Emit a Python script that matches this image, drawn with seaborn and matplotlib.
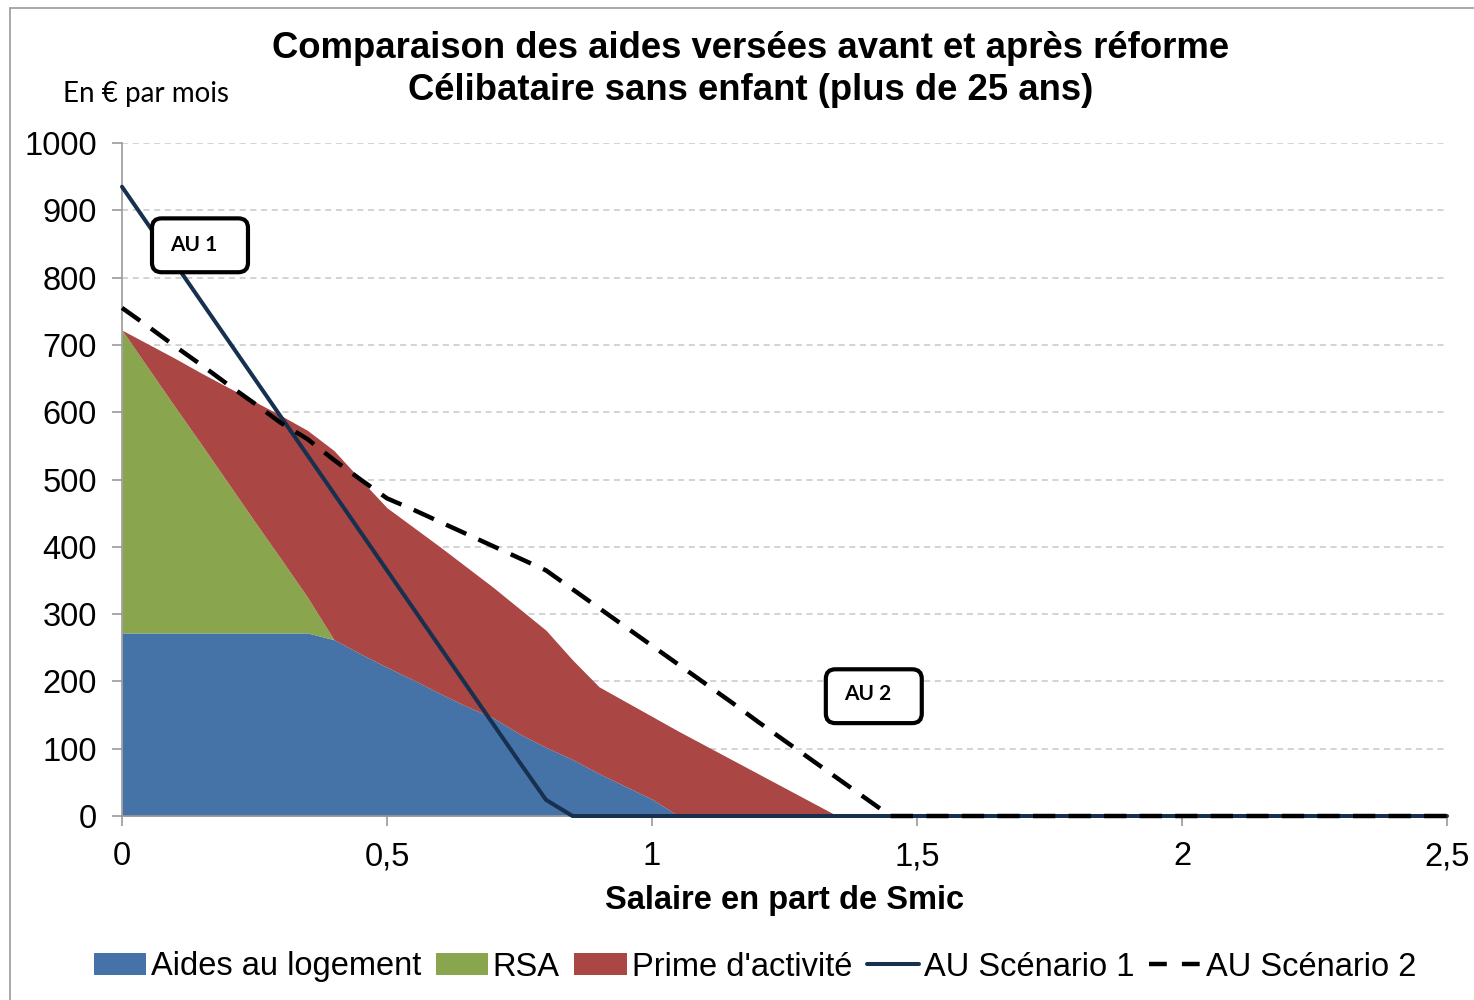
import numpy as np
import pandas as pd
import matplotlib
matplotlib.use("Agg")
import matplotlib.pyplot as plt
import seaborn as sns
from matplotlib.patches import Patch, FancyBboxPatch
from matplotlib.lines import Line2D

# ---------------- data ----------------
salaire = [0.00, 0.05, 0.10, 0.15, 0.20, 0.25, 0.30, 0.35, 0.40, 0.45,
           0.50, 0.55, 0.60, 0.65, 0.70, 0.75, 0.80, 0.85, 0.90, 0.95,
           1.00, 1.05, 1.10, 1.15, 1.20, 1.25, 1.30, 1.35, 1.40, 1.45,
           1.50, 2.50]
aides_logement = [272, 272, 272, 272, 272, 272, 272, 272, 262, 241,
                  221, 202, 182, 163, 146, 122, 102, 84, 63, 44,
                  25, 0, 0, 0, 0, 0, 0, 0, 0, 0,
                  0, 0]
rsa = [450, 393, 336, 280, 223, 166, 110, 53, 0, 0,
       0, 0, 0, 0, 0, 0, 0, 0, 0, 0,
       0, 0, 0, 0, 0, 0, 0, 0, 0, 0,
       0, 0]
prime_activite = [0, 36, 72, 106, 142, 178, 213, 248, 281, 259,
                  237, 227, 218, 207, 194, 186, 174, 148, 129, 126,
                  123, 126, 105, 84, 63, 42, 21, 0, 0, 0,
                  0, 0]
au_scenario1 = [935, 878, 821, 764, 707, 650, 593, 536, 479, 422,
                365, 308, 251, 194, 137, 80, 24, 0, 0, 0,
                0, 0, 0, 0, 0, 0, 0, 0, 0, 0,
                0, 0]
au_scenario2 = [755, 727, 698, 670, 641, 613, 584, 560, 529, 500,
                472, 455, 437, 419, 401, 383, 365, 337, 309, 281,
                253, 225, 197, 169, 140, 112, 84, 56, 28, 0,
                0, 0]

series_labels = ["Aides au logement", "RSA", "Prime d'activité",
                 "AU Scénario 1", "AU Scénario 2"]
x_ticks = [0, 0.5, 1, 1.5, 2, 2.5]
x_ticklabels = ["0", "0,5", "1", "1,5", "2", "2,5"]
y_ticks = [0, 100, 200, 300, 400, 500, 600, 700, 800, 900, 1000]

title1 = "Comparaison des aides versées avant et après réforme"
title2 = "Célibataire sans enfant (plus de 25 ans)"
unit_label = "En € par mois"
x_label = "Salaire en part de Smic"

# ---------------- style ----------------
sns.set_theme(style="white")
plt.rcParams['font.family'] = ['Liberation Sans', 'DejaVu Sans']
plt.rcParams['text.color'] = 'black'
plt.rcParams['axes.labelcolor'] = 'black'
plt.rcParams['xtick.color'] = 'black'
plt.rcParams['ytick.color'] = 'black'

c_blue = "#4572A7"
c_green = "#89A54E"
c_red = "#AA4643"
c_navy = "#17304F"
c_dash = "#000000"

fig = plt.figure(figsize=(14.74, 10.0), dpi=100)
ax = fig.add_axes([122/1474, 1-816/1000, (1447-122)/1474, (816-143)/1000])

ax.stackplot(salaire, aides_logement, rsa, prime_activite,
             colors=[c_blue, c_green, c_red], linewidth=0, zorder=2)

df = pd.DataFrame({"x": salaire, "au1": au_scenario1, "au2": au_scenario2})
sns.lineplot(data=df, x="x", y="au1", ax=ax, color=c_navy, linewidth=2.9,
             zorder=4, clip_on=False, legend=False)
sns.lineplot(data=df, x="x", y="au2", ax=ax, color=c_dash, linewidth=3.2,
             linestyle=(0, (5, 3)), zorder=5, clip_on=False, legend=False)

ax.set_xlim(0, 2.5)
ax.set_ylim(0, 1000)
ax.set_xticks(x_ticks)
ax.set_xticklabels(x_ticklabels)
ax.set_yticks(y_ticks)
ax.tick_params(axis='both', labelsize=23.5, labelcolor="#000000", length=7,
               width=1.2, direction='out', pad=11, color="#999999")
ax.tick_params(axis='y', left=True)
ax.tick_params(axis='x', bottom=True)
for s in ["top", "right"]:
    ax.spines[s].set_visible(False)
for s in ["left", "bottom"]:
    ax.spines[s].set_color("#999999")
    ax.spines[s].set_linewidth(1.2)
ax.yaxis.grid(True, linestyle=(0, (4, 3)), color="#C8C8C8", linewidth=1.1, zorder=0)
ax.xaxis.grid(False)
ax.set_axisbelow(True)

ax.set_xlabel(x_label, fontsize=23.5, fontweight='bold', color='black')
ax.set_ylabel("")
ax.xaxis.set_label_coords(0.5, (816-901)/673)
ax.xaxis.label.set_va('center')

# annotation boxes
def au_box(x0, x1, y0, y1, tx, ty, txt):
    box = FancyBboxPatch((x0, y0), x1 - x0, y1 - y0,
                         boxstyle="round,pad=0,rounding_size=0.018",
                         mutation_aspect=(1000/673)/(2.5/1325),
                         facecolor="white", edgecolor="black", linewidth=3,
                         zorder=6, transform=ax.transData)
    ax.add_patch(box)
    ax.text(tx, ty, txt, fontsize=15, fontweight='bold', family=['Lato', 'DejaVu Sans'],
            ha='left', va='center', zorder=7, color='black')

au_box(0.0566, 0.2377, 808, 888, 0.0906, 849, "AU 1")
au_box(1.328, 1.509, 138, 218, 1.362, 182, "AU 2")

# titles
fig.text(751/1474, 1-48/1000, title1, fontsize=26.3, fontweight='bold',
         ha='center', va='center', color='black')
fig.text(751/1474, 1-91/1000, title2, fontsize=26.3, fontweight='bold',
         ha='center', va='center', color='black')
fig.text(63/1474, 1-94/1000, unit_label, fontsize=20,
         family=['Lato', 'DejaVu Sans'], ha='left', va='center', color='black')

# outer frame lines
fig.add_artist(Line2D([10/1474, 10/1474], [0, 1-8/1000], transform=fig.transFigure,
                      color="#9a9a9a", linewidth=1.2))
fig.add_artist(Line2D([10/1474, 1], [1-8/1000, 1-8/1000], transform=fig.transFigure,
                      color="#9a9a9a", linewidth=1.2))

# legend
handles = [Patch(facecolor=c_blue, edgecolor='none'),
           Patch(facecolor=c_green, edgecolor='none'),
           Patch(facecolor=c_red, edgecolor='none'),
           Line2D([0], [0], color=c_navy, linewidth=2.9),
           Line2D([0], [0], color=c_dash, linewidth=3.2, linestyle=(0, (4, 3.4)))]
leg = fig.legend(handles, series_labels, loc='center', bbox_to_anchor=(755/1474, 1-967/1000),
                 ncol=5, frameon=False, fontsize=23.5, handlelength=1.6, handleheight=0.65,
                 handletextpad=0.15, columnspacing=0.45, borderaxespad=0)
for t in leg.get_texts():
    t.set_color('black')

fig.savefig("out.png", dpi=100)
